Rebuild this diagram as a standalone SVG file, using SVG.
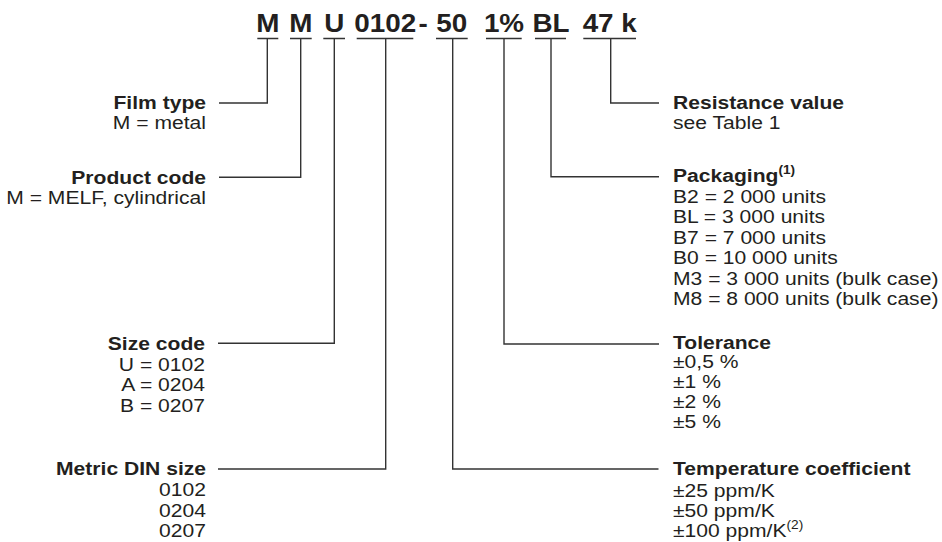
<svg xmlns="http://www.w3.org/2000/svg" width="942" height="542" viewBox="0 0 942 542">
<style>
  .t { font-family: "Liberation Sans", Arial, Helvetica, sans-serif; font-size: 18.5px; fill: #231f20; }
  .b { font-weight: bold; }
  .code { font-family: "Liberation Sans", Arial, Helvetica, sans-serif; font-size: 26.5px; font-weight: bold; fill: #231f20; text-anchor: middle; }
  .sup { font-size: 12px; }
  .ln { stroke: #333; stroke-width: 1.4; fill: none; }
  .L text { text-anchor: end; }
</style>
<rect width="942" height="542" fill="#fff"/>

<g id="code-line">
  <text class="code" transform="translate(267.8,31.5) scale(1.05,1)">M</text>
  <text class="code" transform="translate(300.8,31.5) scale(1.05,1)">M</text>
  <text class="code" transform="translate(334.2,31.5) scale(1.05,1)">U</text>
  <text class="code" transform="translate(385.3,31.5) scale(1.05,1)">0102</text>
  <text class="code" transform="translate(423,31.5) scale(1.05,1)">-</text>
  <text class="code" transform="translate(451.7,31.5) scale(1.05,1)">50</text>
  <text class="code" transform="translate(504,31.5) scale(1.05,1)">1%</text>
  <text class="code" transform="translate(551,31.5) scale(1.05,1)">BL</text>
  <text class="code" transform="translate(609.7,31.5) scale(1.05,1)">47 k</text>
</g>

<g id="connectors">
  <!-- underlines -->
  <path class="ln" d="M257.3 38.5H278.3 M290 38.5H311.7 M323.3 38.5H345 M356.7 38.5H413.3 M436 38.5H467.7 M486 38.5H521.7 M535 38.5H566 M583.3 38.5H636"/>
  <!-- film type -->
  <path class="ln" d="M267.3 38.5V103H219"/>
  <!-- product code -->
  <path class="ln" d="M300.7 38.5V177.3H219"/>
  <!-- size code -->
  <path class="ln" d="M334.3 38.5V343.3H218"/>
  <!-- metric DIN size -->
  <path class="ln" d="M385.7 38.5V469H218"/>
  <!-- temperature coefficient -->
  <path class="ln" d="M452.7 38.5V469H658.5"/>
  <!-- tolerance -->
  <path class="ln" d="M504 38.5V344H659"/>
  <!-- packaging -->
  <path class="ln" d="M551 38.5V176.7H659"/>
  <!-- resistance value -->
  <path class="ln" d="M610.7 38.5V103H659"/>
</g>

<g class="L">
  <g id="film-type" transform="translate(206,0) scale(1.14,1)">
    <text class="t b" x="0" y="109.5">Film type</text>
    <text class="t" x="0" y="129.5">M = metal</text>
  </g>
  <g id="product-code" transform="translate(206,0) scale(1.14,1)">
    <text class="t b" x="0" y="184">Product code</text>
    <text class="t" x="0" y="204.5">M = MELF, cylindrical</text>
  </g>
  <g id="size-code" transform="translate(205,0) scale(1.14,1)">
    <text class="t b" x="0" y="350">Size code</text>
    <text class="t" x="0" y="370.7">U = 0102</text>
    <text class="t" x="0" y="391.3">A = 0204</text>
    <text class="t" x="0" y="412">B = 0207</text>
  </g>
  <g id="metric-din-size" transform="translate(206,0) scale(1.14,1)">
    <text class="t b" x="0" y="475.5">Metric DIN size</text>
    <text class="t" x="0" y="496.2">0102</text>
    <text class="t" x="0" y="516.8">0204</text>
    <text class="t" x="0" y="537.4">0207</text>
  </g>
</g>

<g id="resistance-value" transform="translate(673,0) scale(1.14,1)">
  <text class="t b" x="0" y="109">Resistance value</text>
  <text class="t" x="0" y="129">see Table 1</text>
</g>
<g id="packaging" transform="translate(673,0) scale(1.14,1)">
  <text class="t b" x="0" y="182.5">Packaging<tspan class="sup" dy="-8">(1)</tspan></text>
  <text class="t" x="0" y="202.8">B2 = 2 000 units</text>
  <text class="t" x="0" y="223.3">BL = 3 000 units</text>
  <text class="t" x="0" y="243.8">B7 = 7 000 units</text>
  <text class="t" x="0" y="264.3">B0 = 10 000 units</text>
  <text class="t" x="0" y="284.8">M3 = 3 000 units (bulk case)</text>
  <text class="t" x="0" y="305.3">M8 = 8 000 units (bulk case)</text>
</g>
<g id="tolerance" transform="translate(673,0) scale(1.14,1)">
  <text class="t b" x="0" y="349">Tolerance</text>
  <text class="t" x="0" y="368.3">±0,5 %</text>
  <text class="t" x="0" y="388.5">±1 %</text>
  <text class="t" x="0" y="408.5">±2 %</text>
  <text class="t" x="0" y="428.5">±5 %</text>
</g>
<g id="temperature-coefficient" transform="translate(673,0) scale(1.14,1)">
  <text class="t b" x="0" y="475.5">Temperature coefficient</text>
  <text class="t" x="0" y="496.5">±25 ppm/K</text>
  <text class="t" x="0" y="517">±50 ppm/K</text>
  <text class="t" x="0" y="537.4">±100 ppm/K<tspan class="sup" dy="-8">(2)</tspan></text>
</g>
</svg>
